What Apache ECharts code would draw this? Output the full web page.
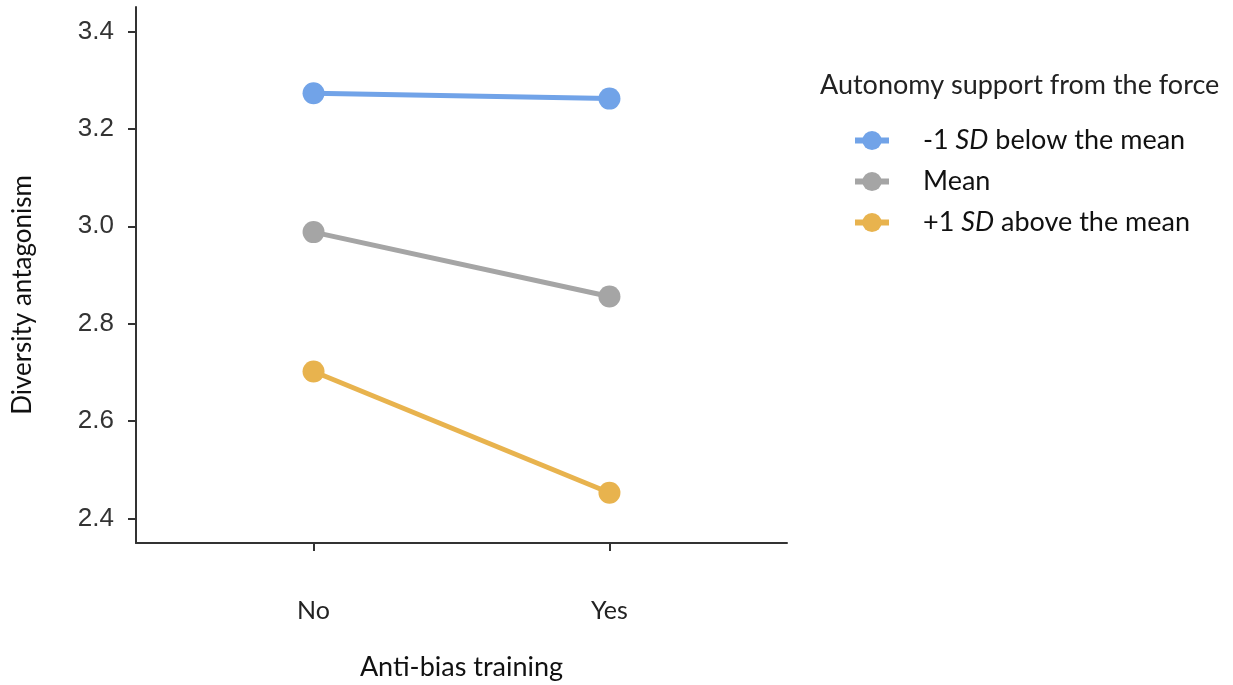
<!DOCTYPE html>
<html><head><meta charset="utf-8">
<script src="https://cdn.jsdelivr.net/npm/echarts@6/dist/echarts.min.js"></script>
<style>html,body{margin:0;padding:0;background:#fff}#c{width:1233px;height:685px}</style>
</head><body><div id="c"></div>
<script>
const categories = ['No', 'Yes'];
const seriesNames = ['-1 SD below the mean', 'Mean', '+1 SD above the mean'];
const lowValues = [3.273, 3.262];
const meanValues = [2.988, 2.856];
const highValues = [2.702, 2.453];
const yTicks = [2.4, 2.6, 2.8, 3.0, 3.2, 3.4];
const colors = ['#71A3E8', '#A5A5A5', '#E8B34E'];

const allValues = [lowValues, meanValues, highValues];
const chart = echarts.init(document.getElementById('c'));
const txtFont = 'Lato, "Open Sans", sans-serif';

chart.setOption({
  animation: false,
  grid: { left: 136, right: 446, top: 7, bottom: 142, outerBoundsMode: 'none', containLabel: false },
  title: {
    text: 'Autonomy support from the force',
    left: 815, top: 67,
    textStyle: { fontFamily: txtFont, fontSize: 27, fontWeight: 'normal', color: '#222' }
  },
  legend: {
    orient: 'vertical',
    left: 852, top: 127, padding: 0,
    itemWidth: 34, itemHeight: 24, itemGap: 14,
    data: seriesNames,
    lineStyle: { width: 6 },
    formatter: function (name) {
      if (name === seriesNames[0]) return '{sp|}{n|-1 }{i|SD}{n| below the mean}';
      if (name === seriesNames[2]) return '{sp|}{n|+1 }{i|SD}{n| above the mean}';
      return '{sp|}{n|' + name + '}';
    },
    textStyle: {
      rich: {
        sp: { width: 29 },
        n: { fontFamily: txtFont, fontSize: 27, color: '#111' },
        i: { fontFamily: txtFont, fontSize: 27, color: '#111', fontStyle: 'italic' }
      }
    }
  },
  xAxis: {
    type: 'value', min: -0.6, max: 1.6,
    name: 'Anti-bias training', nameLocation: 'middle', nameGap: 111,
    nameTextStyle: { fontFamily: txtFont, fontSize: 27, color: '#111' },
    axisLine: { show: true, onZero: false, lineStyle: { color: '#333', width: 2 } },
    axisTick: { show: true, length: 8, customValues: [0, 1], lineStyle: { color: '#333', width: 2 } },
    axisLabel: {
      customValues: [0, 1], margin: 55,
      formatter: function (v) { return categories[Math.round(v)] || ''; },
      fontFamily: txtFont, fontSize: 25, color: '#222'
    },
    splitLine: { show: false }
  },
  yAxis: {
    type: 'value', min: 2.35, max: 3.45,
    name: 'Diversity antagonism', nameLocation: 'middle', nameGap: 100, nameRotate: 90,
    nameTextStyle: { fontFamily: txtFont, fontSize: 26, color: '#111', padding: [0, 40, 0, 0] },
    axisLine: { show: true, onZero: false, lineStyle: { color: '#333', width: 2 } },
    axisTick: { show: true, length: 8, customValues: yTicks, lineStyle: { color: '#333', width: 2 } },
    axisLabel: {
      customValues: yTicks, margin: 22,
      formatter: function (v) { return v.toFixed(1); },
      fontFamily: '"Liberation Sans", Arial, sans-serif', fontSize: 26, color: '#333'
    },
    splitLine: { show: false }
  },
  series: seriesNames.map(function (name, i) {
    return {
      name: name, type: 'line',
      data: allValues[i].map(function (v, j) { return [j, v]; }),
      symbol: 'circle', symbolSize: 22,
      lineStyle: { color: colors[i], width: 5 },
      itemStyle: { color: colors[i] }
    };
  })
});
</script></body></html>
